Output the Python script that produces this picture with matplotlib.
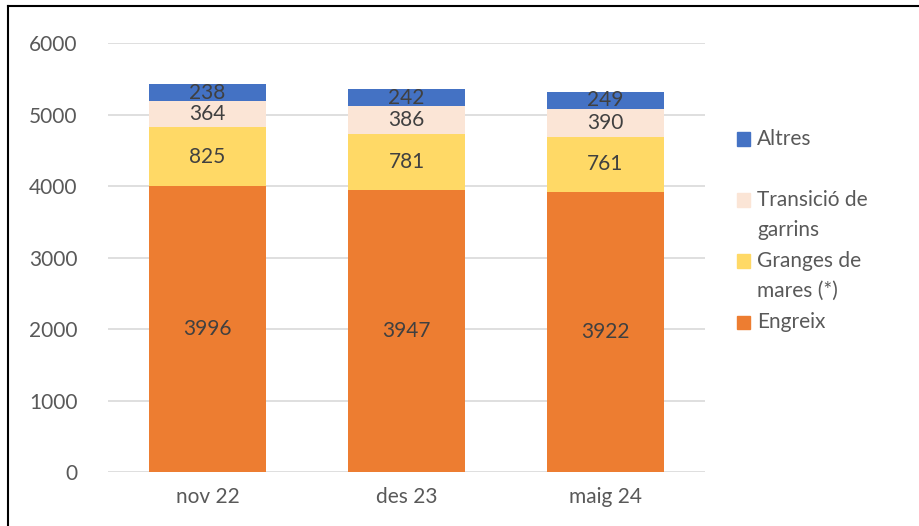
import matplotlib.pyplot as plt
import numpy as np
from matplotlib.lines import Line2D
from matplotlib.patches import Rectangle

plt.rcParams['font.family'] = ['Lato', 'DejaVu Sans']

categories = ['nov 22', 'des 23', 'maig 24']
engreix = [3996, 3947, 3922]
granges = [825, 781, 761]
transicio = [364, 386, 390]
altres = [238, 242, 249]

series = [
    ('Engreix', engreix, '#ED7D31'),
    ('Granges de\nmares (*)', granges, '#FFD966'),
    ('Transició de\ngarrins', transicio, '#FBE5D6'),
    ('Altres', altres, '#4472C4'),
]

fig = plt.figure(figsize=(9.2, 5.26), dpi=100)
ax = fig.add_axes([0.1174, 0.1027, 0.6489, 0.8153])

x = np.arange(len(categories))
bottom = np.zeros(len(categories))
for name, vals, color in series:
    vals = np.array(vals)
    ax.bar(x, vals, 0.59, bottom=bottom, color=color, zorder=2)
    for xi, b, v in zip(x, bottom, vals):
        ax.text(xi, b + v / 2, str(v), ha='center', va='center',
                fontsize=15, color='#404040', zorder=3)
    bottom += vals

ax.set_xlim(-0.5, 2.5)
ax.set_ylim(0, 6000)
ax.set_yticks(range(0, 6001, 1000))
ax.set_xticks(x)
ax.set_xticklabels(categories)
ax.tick_params(length=0, labelsize=15, colors='#595959')
ax.tick_params(axis='y', pad=22)
ax.tick_params(axis='x', pad=11)
ax.grid(axis='y', color='#D9D9D9', linewidth=1.2, zorder=0)
for s in ax.spines.values():
    s.set_visible(False)

# legend drawn by hand (Altres on top)
legend_rows = [('Altres', '#4472C4', 139), ('Transició de\ngarrins', '#FBE5D6', 200),
               ('Granges de\nmares (*)', '#FFD966', 261), ('Engreix', '#ED7D31', 322)]
W, H = 920, 526
for label, color, ypx in legend_rows:
    fig.patches.append(Rectangle((737 / W, 1 - (ypx + 6.5) / H), 13 / W, 13 / H,
                                 transform=fig.transFigure, color=color))
    for i, line in enumerate(label.split('\n')):
        fig.text(757 / W, 1 - (ypx + 30 * i) / H, line, ha='left', va='center',
                 fontsize=15, color='#595959')

# frame on left and top
fig.add_artist(Line2D([8 / W, 8 / W], [0, 1 - 6 / H], color='black', linewidth=1.5))
fig.add_artist(Line2D([8 / W, 1], [1 - 6 / H, 1 - 6 / H], color='black', linewidth=1.5))

fig.savefig('out.png', dpi=100)
